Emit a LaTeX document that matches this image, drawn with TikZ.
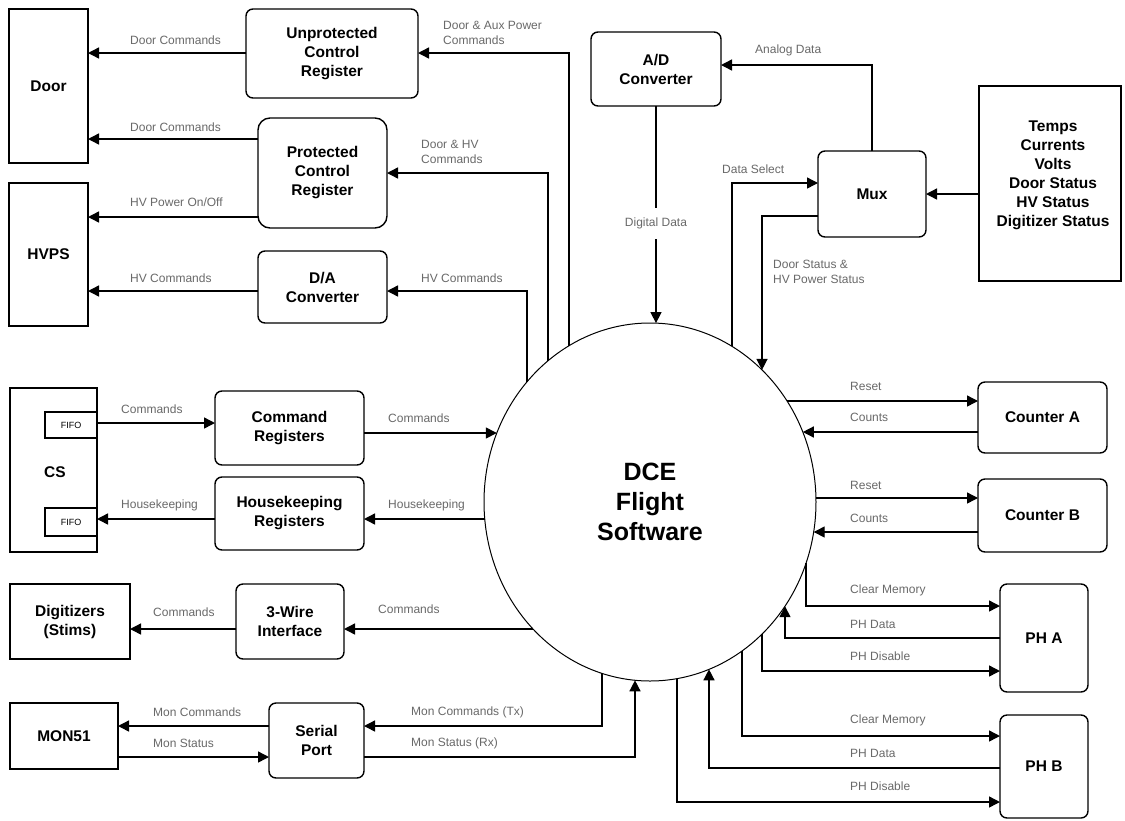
\documentclass[tikz,border=0pt]{standalone}
\usepackage{fontspec}
\setmainfont{Liberation Sans}
\usetikzlibrary{arrows.meta,shapes.geometric}
\definecolor{labelgray}{RGB}{105,105,105}
\tikzset{
  sq/.style={draw, line width=1.4pt, inner sep=0pt, outer sep=0pt, align=center,
    font=\bfseries\fontsize{15.5}{19}\selectfont},
  rbox/.style={sq, rounded corners=7pt},
  lbl/.style={font=\fontsize{12}{15}\selectfont, text=labelgray, inner sep=0pt, anchor=west, align=left},
  arr/.style={-{Triangle[length=11pt,width=11pt]}, line width=1.4pt},
  ln/.style={line width=1.4pt}
}
\begin{document}
\begin{tikzpicture}[x=1pt,y=-1pt]
\useasboundingbox[fill=white] (0,0) rectangle (1125,820);
% ---- left column boxes
\node[sq, minimum width=79pt, minimum height=154pt] (door) at (48.5,86) {Door};
\node[sq, minimum width=79pt, minimum height=143pt] (hvps) at (48.5,254.5) {HVPS};
\node[sq, minimum width=87pt, minimum height=164pt] (cs) at (53.5,470) {};
\node[font=\bfseries\fontsize{15.5}{19}\selectfont, inner sep=0pt] (cslbl) at (55,472) {CS};
\node[sq, font=\fontsize{9}{10}\selectfont, minimum width=52pt, minimum height=26pt] (fifo1) at (71,425) {FIFO};
\node[sq, font=\fontsize{9}{10}\selectfont, minimum width=52pt, minimum height=28pt] (fifo2) at (71,522) {FIFO};
\node[sq, minimum width=120pt, minimum height=75pt] (digit) at (70,621.5) {Digitizers\\(Stims)};
\node[sq, minimum width=108pt, minimum height=66pt] (mon) at (64,736) {MON51};
% ---- middle column boxes
\node[rbox, minimum width=172pt, minimum height=89pt] (unprot) at (332,53.5) {Unprotected\\Control\\Register};
\node[rbox, rounded corners=12pt, minimum width=129pt, minimum height=110pt] (prot) at (322.5,173) {Protected\\Control\\Register};
\node[rbox, minimum width=129pt, minimum height=72pt] (da) at (322.5,287) {D/A\\Converter};
\node[rbox, minimum width=149pt, minimum height=74pt] (cmdreg) at (289.5,428) {Command\\Registers};
\node[rbox, minimum width=149pt, minimum height=73pt] (hkreg) at (289.5,513.5) {Housekeeping\\Registers};
\node[rbox, minimum width=108pt, minimum height=75pt] (wire) at (290,621.5) {3-Wire\\Interface};
\node[rbox, minimum width=95pt, minimum height=75pt] (serial) at (316.5,740.5) {Serial\\Port};
% ---- top right
\node[rbox, minimum width=130pt, minimum height=74pt] (ad) at (656,69) {A/D\\Converter};
\node[rbox, minimum width=108pt, minimum height=86pt] (mux) at (872,194) {Mux};
\node[sq, minimum width=142pt, minimum height=195pt] (sens) at (1050,183.5) {};
\node[font=\bfseries\fontsize{15.5}{19}\selectfont, align=center, inner sep=0pt] (senslbl) at (1053,175) {Temps\\Currents\\Volts\\Door Status\\HV Status\\Digitizer Status};
% ---- right column
\node[rbox, minimum width=129pt, minimum height=71pt] (ctra) at (1042.5,417.5) {Counter A};
\node[rbox, minimum width=129pt, minimum height=73pt] (ctrb) at (1042.5,515.5) {Counter B};
\node[rbox, minimum width=88pt, minimum height=108pt] (pha) at (1044,638) {PH A};
\node[rbox, minimum width=88pt, minimum height=103pt] (phb) at (1044,766.5) {PH B};
% ---- central ellipse
\node[draw, ellipse, line width=1pt, inner sep=0pt, minimum width=332pt, minimum height=358pt,
  align=center, font=\bfseries\fontsize{25}{30}\selectfont] (dce) at (650,502) {DCE\\Flight\\Software};
% ---- points on the ellipse border
\coordinate (e1) at (569,345.7);
\coordinate (e2) at (548,360.8);
\coordinate (e3) at (527,381.8);
\coordinate (e4) at (496.8,433);
\coordinate (e5) at (484.7,519);
\coordinate (e6) at (533,629);
\coordinate (e7) at (602,673.3);
\coordinate (e8) at (635,680.3);
\coordinate (e9) at (656,323.1);
\coordinate (e10) at (732,346.4);
\coordinate (e11) at (762,369.9);
\coordinate (e12) at (787,401);
\coordinate (e13) at (802.8,432);
\coordinate (e14) at (816,498);
\coordinate (e15) at (813.7,532);
\coordinate (e16) at (806,563.2);
\coordinate (e17) at (785,606.2);
\coordinate (e18) at (762,634.1);
\coordinate (e19) at (742,651);
\coordinate (e20) at (709,669.3);
\coordinate (e21) at (677,678.6);
% ---- left connectors
\draw[arr] (unprot.west |- 0,53) -- (door.east |- 0,53);
\draw[arr] (prot.west |- 0,139) -- (door.east |- 0,139);
\draw[arr] (prot.west |- 0,217) -- (hvps.east |- 0,217);
\draw[arr] (da.west |- 0,291) -- (hvps.east |- 0,291);
\draw[arr] (e1) -- (569,53) -- (unprot.east |- 0,53);
\draw[arr] (e2) -- (548,173) -- (prot.east |- 0,173);
\draw[arr] (e3) -- (527,291) -- (da.east |- 0,291);
\draw[arr] (fifo1.east |- 0,423) -- (cmdreg.west |- 0,423);
\draw[arr] (cmdreg.east |- 0,433) -- (e4);
\draw[arr] (e5) -- (hkreg.east |- 0,519);
\draw[arr] (hkreg.west |- 0,519) -- (fifo2.east |- 0,519);
\draw[arr] (e6) -- (wire.east |- 0,629);
\draw[arr] (wire.west |- 0,629) -- (digit.east |- 0,629);
\draw[arr] (serial.west |- 0,726) -- (mon.east |- 0,726);
\draw[arr] (mon.east |- 0,757) -- (serial.west |- 0,757);
\draw[arr] (e7) -- (602,726) -- (serial.east |- 0,726);
\draw[arr] (serial.east |- 0,757) -- (635,757) -- (e8);
% ---- top connectors
\draw[arr] (ad.south -| 656,0) -- (e9);
\draw[arr] (mux.north) -- (872,65) -- (ad.east |- 0,65);
\draw[arr] (e10) -- (732,183) -- (mux.west |- 0,183);
\draw[arr] (mux.west |- 0,216) -- (762,216) -- (e11);
\draw[arr] (sens.west |- 0,194) -- (mux.east |- 0,194);
% ---- right connectors
\draw[arr] (e12) -- (ctra.west |- 0,401);
\draw[arr] (ctra.west |- 0,432) -- (e13);
\draw[arr] (e14) -- (ctrb.west |- 0,498);
\draw[arr] (ctrb.west |- 0,532) -- (e15);
\draw[arr] (e16) -- (806,606) -- (pha.west |- 0,606);
\draw[arr] (pha.west |- 0,638) -- (785,638) -- (e17);
\draw[arr] (e18) -- (762,671) -- (pha.west |- 0,671);
\draw[arr] (e19) -- (742,736) -- (phb.west |- 0,736);
\draw[arr] (phb.west |- 0,768) -- (709,768) -- (e20);
\draw[arr] (e21) -- (677,802) -- (phb.west |- 0,802);
% ---- labels
\node[lbl] (l1) at (130,40) {Door Commands};
\node[lbl] (l2) at (130,127) {Door Commands};
\node[lbl] (l3) at (130,202) {HV Power On/Off};
\node[lbl] (l4) at (130,278) {HV Commands};
\node[lbl] (l5) at (443,32.5) {Door \& Aux Power\\Commands};
\node[lbl] (l6) at (421,151.5) {Door \& HV\\Commands};
\node[lbl] (l7) at (421,278) {HV Commands};
\node[lbl] (l8) at (121,409) {Commands};
\node[lbl] (l9) at (121,505) {Housekeeping};
\node[lbl] (l10) at (388,418) {Commands};
\node[lbl] (l11) at (388,505) {Housekeeping};
\node[lbl] (l12) at (153,612) {Commands};
\node[lbl] (l13) at (378,609) {Commands};
\node[lbl] (l14) at (153,712) {Mon Commands};
\node[lbl] (l15) at (153,743) {Mon Status};
\node[lbl] (l16) at (411,712) {Mon Commands (Tx)};
\node[lbl] (l17) at (411,743) {Mon Status (Rx)};
\node[lbl] (l18) at (755,50) {Analog Data};
\node[lbl] (l19) at (722,169) {Data Select};
\node[lbl] (l20) at (773,272) {Door Status \&\\HV Power Status};
\node[lbl, anchor=center, fill=white, minimum height=31pt, minimum width=70pt] (l21) at (656,223) {Digital Data};
\node[lbl] (l22) at (850,386) {Reset};
\node[lbl] (l23) at (850,417) {Counts};
\node[lbl] (l24) at (850,485) {Reset};
\node[lbl] (l25) at (850,518) {Counts};
\node[lbl] (l26) at (850,590) {Clear Memory};
\node[lbl] (l27) at (850,624) {PH Data};
\node[lbl] (l28) at (850,656) {PH Disable};
\node[lbl] (l29) at (850,720) {Clear Memory};
\node[lbl] (l30) at (850,753) {PH Data};
\node[lbl] (l31) at (850,786) {PH Disable};
\end{tikzpicture}
\end{document}
